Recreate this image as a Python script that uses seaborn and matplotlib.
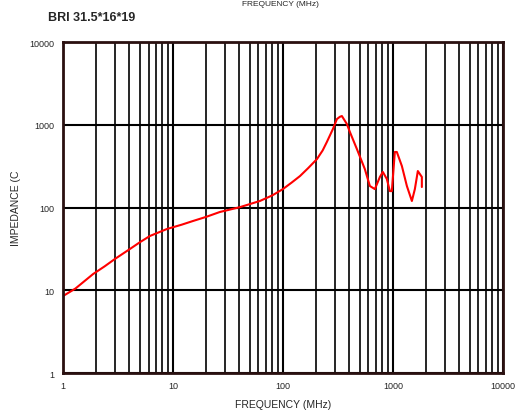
import seaborn as sns
import matplotlib.pyplot as plt
import matplotlib.ticker as mticker
import pandas as pd

sns.set_style("white")
plt.rcParams['font.family'] = ['Liberation Sans', 'DejaVu Sans']

# values
freq = [1.0, 1.3, 1.88, 2.4, 2.97, 4.06, 5.0, 6.18, 8.82, 12.0, 15.2, 20.0, 26.7,
        40.6, 50.0, 61.8, 80.0, 100, 120, 143, 170, 204, 230, 251, 285, 310, 330, 344,
        382, 407, 471, 556, 618, 686, 762, 811, 882, 939, 979, 1042, 1087, 1208, 1341,
        1489, 1585, 1687, 1835, 1835]
impedance = [8.5, 10.5, 15.7, 19.5, 23.9, 31.5, 38.0, 45.3, 55.0, 62.0, 68.7, 77.0, 88.3,
             101, 110, 120, 140, 167, 200, 240, 300, 385, 490, 619, 889, 1173, 1250, 1276,
             1021, 817, 509, 292, 182, 167, 234, 269, 221, 158, 158, 469, 469, 317, 182,
             120, 167, 276, 234, 177]
xticks = [1, 10, 100, 1000, 10000]
yticks = [1, 10, 100, 1000, 10000]

df = pd.DataFrame({"freq": freq, "imp": impedance})

fig = plt.figure(figsize=(5.2, 4.14), dpi=100)
ax = fig.add_axes([0.121, 0.0966, 0.846, 0.7994])

sns.lineplot(data=df, x="freq", y="imp", ax=ax, color="#ff0000", linewidth=1.5,
             sort=False, estimator=None)
ax.set_xscale("log")
ax.set_yscale("log")
ax.set_xlim(1, 10000)
ax.set_ylim(1, 10000)

ax.xaxis.set_major_locator(mticker.FixedLocator(xticks))
ax.yaxis.set_major_locator(mticker.FixedLocator(yticks))
ax.xaxis.set_minor_locator(mticker.LogLocator(base=10, subs=range(2, 10)))
ax.yaxis.set_minor_locator(mticker.NullLocator())
ax.set_xticklabels([str(t) for t in xticks])
ax.set_yticklabels([str(t) for t in yticks])
ax.xaxis.set_minor_formatter(mticker.NullFormatter())

ax.grid(True, which="major", axis="both", color="black", linewidth=1.5)
ax.grid(True, which="minor", axis="x", color="black", linewidth=1.2)
ax.tick_params(axis="both", which="both", length=0, labelsize=6.5, pad=6)
for s in ax.spines.values():
    s.set_color("#2a1010")
    s.set_linewidth(2)

ax.set_xlabel("FREQUENCY (MHz)", fontsize=7.5, labelpad=6)
ax.set_ylabel("IMPEDANCE (C", fontsize=7.5, labelpad=6)

fig.text(0.092, 0.957, "BRI 31.5*16*19", fontsize=9, fontweight="bold", va="center")
fig.text(0.54, 0.998, "FREQUENCY (MHz)", fontsize=6, ha="center", va="top")

fig.savefig("out.png", dpi=100)
